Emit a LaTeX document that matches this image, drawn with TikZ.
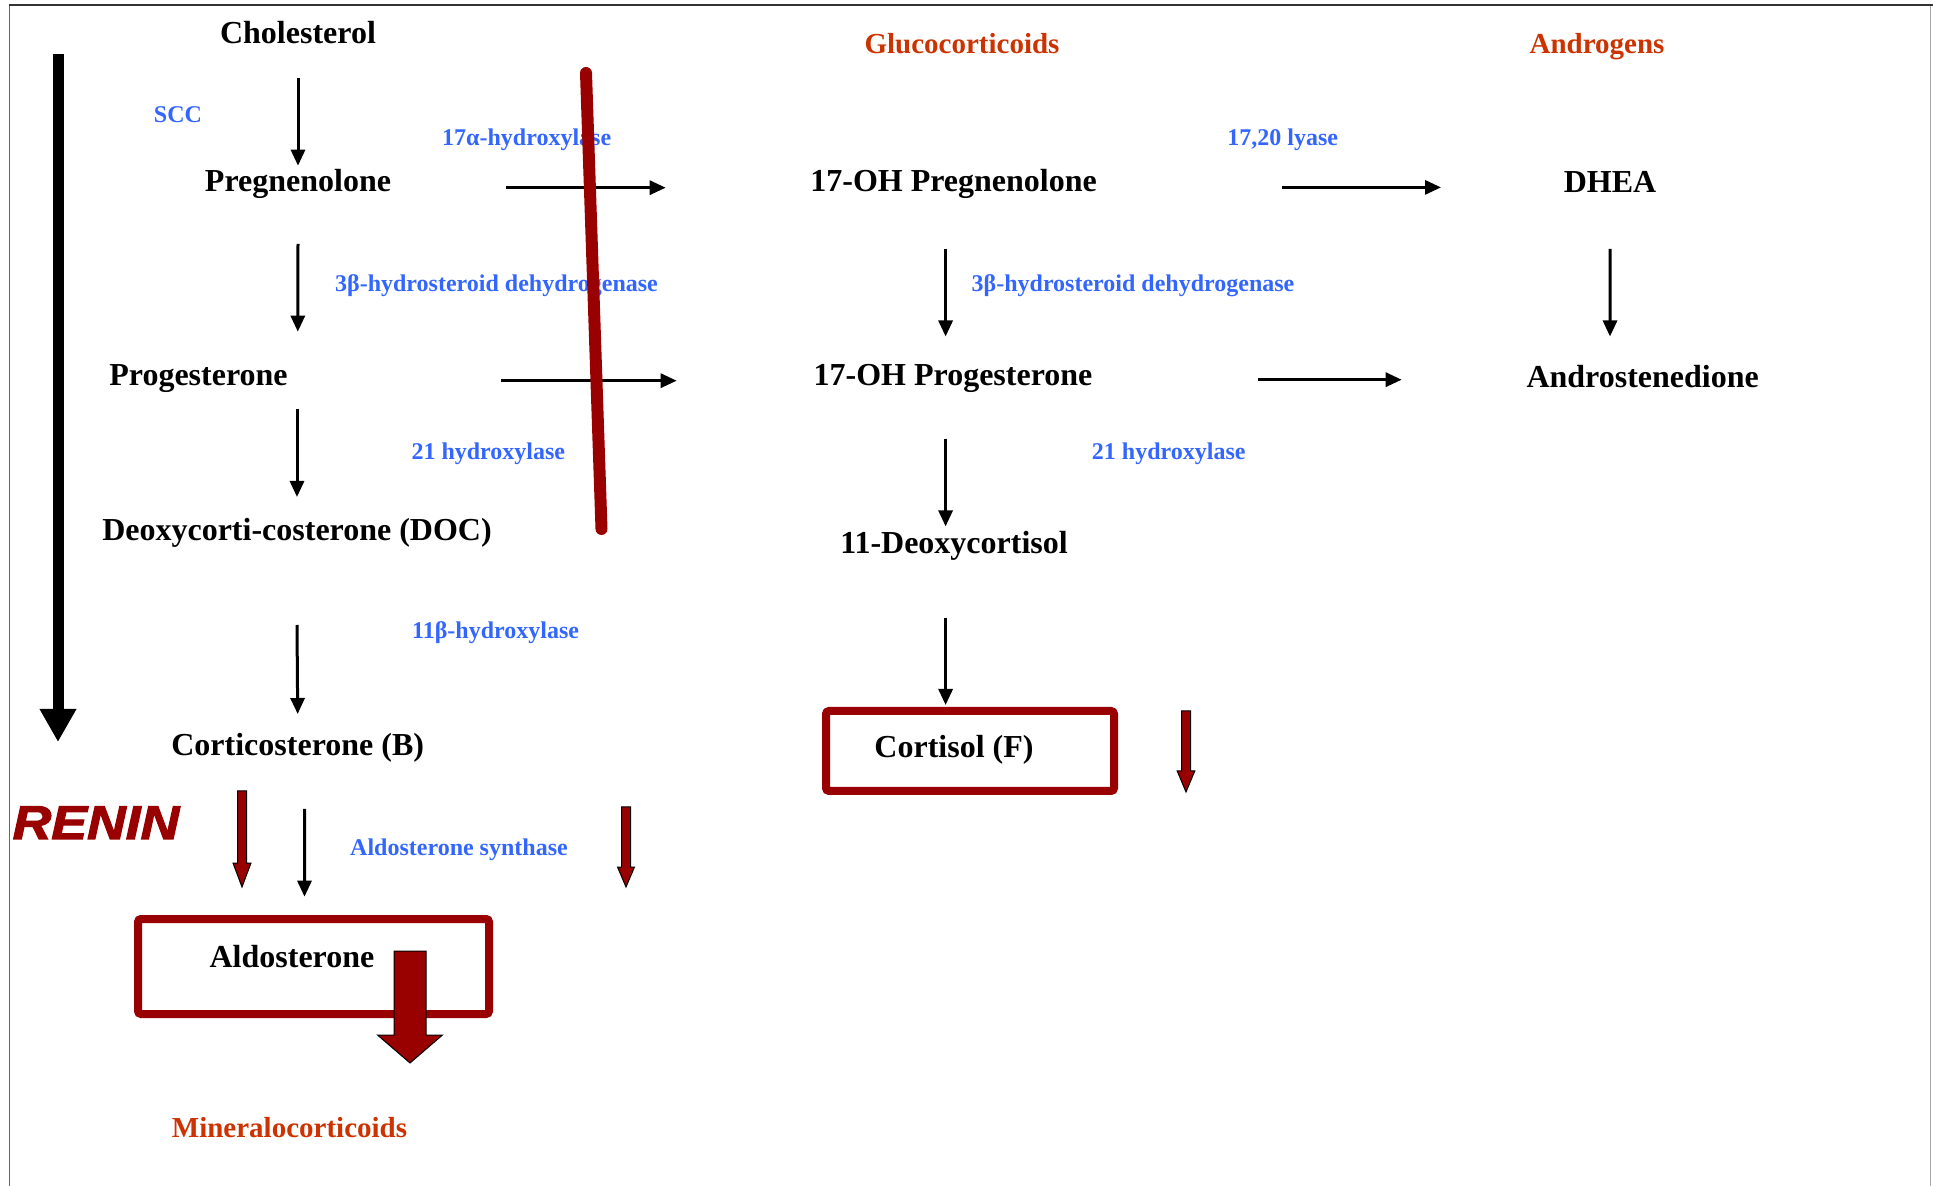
\documentclass[tikz,border=0pt]{standalone}
\usepackage{fontspec}
\setmainfont{Liberation Serif}
\newfontfamily\reninfont{Liberation Sans}[BoldItalicFeatures={FakeBold=2.5,FakeStretch=1.13}]
\usetikzlibrary{arrows.meta}
\definecolor{enzblue}{RGB}{51,102,255}
\definecolor{grporange}{RGB}{204,51,0}
\definecolor{darkred}{RGB}{153,0,0}

\begin{document}
\begin{tikzpicture}[x=0.5pt, y=-0.5pt,
    chem/.style={font=\fontsize{16}{19}\selectfont\bfseries, anchor=base, inner sep=0pt},
    enz/.style={font=\fontsize{12}{14}\selectfont\bfseries, text=enzblue, anchor=base, inner sep=0pt},
    grp/.style={font=\fontsize{14.5}{17}\selectfont\bfseries, text=grporange, anchor=base, inner sep=0pt},
    arr/.style={-{Triangle[length=8pt,width=7pt]}, line width=1.5pt},
    outbox/.style={draw=darkred, line width=4pt, rounded corners=1.5pt, inner sep=0pt, outer sep=0pt},
    blockarr/.style={fill=darkred, draw=black, line width=0.5pt}]

    \useasboundingbox (0,0) rectangle (1933,1186);

    % frame
    \draw[black!60, line width=0.5pt] (9.5,5) -- (9.5,1186);
    \draw[black!35, line width=0.5pt] (1930.5,5) -- (1930.5,1186);
    \draw[black!80, line width=1pt] (9,5) -- (1933,5);

    % group headings
    \node[grp] (gluco)  at (962,53.4)   {Glucocorticoids};
    \node[grp] (andgrp) at (1597,53.3)  {Androgens};
    \node[grp] (mineral) at (289.5,1137) {Mineralocorticoids};

    % steroids
    \node[chem] (chol)   at (298,44)     {Cholesterol};
    \node[chem] (preg)   at (298,192)    {Pregnenolone};
    \node[chem] (prog)   at (198.5,386)  {Progesterone};
    \node[chem] (doc)    at (297,541)    {Deoxycorti-costerone (DOC)};
    \node[chem] (cort)   at (297.7,756)  {Corticosterone (B)};
    \node[chem] (aldo)   at (292,967)    {Aldosterone};
    \node[chem] (ohpreg) at (953.6,192)  {17-OH Pregnenolone};
    \node[chem] (ohprog) at (953,386)    {17-OH Progesterone};
    \node[chem] (deoxy)  at (954,553.5)  {11-Deoxycortisol};
    \node[chem] (cortisol) at (954,757.7) {Cortisol (F)};
    \node[chem] (dhea)   at (1610,192.7) {DHEA};
    \node[chem] (andro)  at (1642.7,388) {Androstenedione};

    % enzymes
    \node[enz] (scc)    at (178,122.5)   {SCC};
    \node[enz] (hyd17)  at (526.7,145.7) {17α-hydroxylase};
    \node[enz] (lyase)  at (1282.7,145.7) {17,20 lyase};
    \node[enz] (hsdl)   at (496.5,292)   {3β-hydrosteroid dehydrogenase};
    \node[enz] (hsdr)   at (1133,292)    {3β-hydrosteroid dehydrogenase};
    \node[enz] (hyd21l) at (488.3,459.3) {21 hydroxylase};
    \node[enz] (hyd21r) at (1168.7,459.3) {21 hydroxylase};
    \node[enz] (hyd11)  at (495.6,639)   {11β-hydroxylase};
    \node[enz] (aldsyn) at (459,855.7)   {Aldosterone synthase};

    % renin
    \node[font=\fontsize{23.7}{28}\reninfont\bfseries\itshape, text=darkred,
          anchor=base, inner sep=0pt] (renin) at (96,839) {RENIN};

    % output boxes
    \node[outbox, minimum width=175.5pt, minimum height=47.5pt] (aldobox) at (313.5,966.5) {};
    \node[outbox, minimum width=144pt, minimum height=40pt] (cortbox) at (970,751) {};

    % mineralocorticoid pathway
    \draw[arr] ([yshift=-17pt]chol.base) -- ([yshift=13.15pt]preg.base);
    \draw[arr] ([yshift=-26pt]preg.base) -- ([xshift=49.65pt,yshift=27.15pt]prog.base);
    \draw[arr] ([xshift=49.25pt,yshift=-11.5pt]prog.base) -- ([yshift=22pt]doc.base);
    \draw[arr] ([yshift=-42pt]doc.base) -- ([yshift=21pt]cort.base);
    \draw[arr] ([xshift=3.4pt,yshift=-26.5pt]cort.base) -- ([xshift=-4.5pt,yshift=34.9pt]aldobox.center);

    % glucocorticoid pathway
    \draw[arr] ([xshift=-4pt,yshift=-28.5pt]ohpreg.base) -- ([xshift=-3.7pt,yshift=24.75pt]ohprog.base);
    \draw[arr] ([xshift=-3.7pt,yshift=-26.45pt]ohprog.base) -- ([xshift=-4.2pt,yshift=13.55pt]deoxy.base);
    \draw[arr] ([xshift=-4.2pt,yshift=-32.05pt]deoxy.base) -- ([xshift=-12.2pt,yshift=23pt]cortbox.center);

    % androgens
    \draw[arr] ([yshift=-28.15pt]dhea.base) -- ([xshift=-16.35pt,yshift=25.75pt]andro.base);

    % 17-hydroxylation and lyase
    \draw[arr] ([xshift=104pt,yshift=2.15pt]preg.base) -- ([xshift=-143.95pt,yshift=2.15pt]ohpreg.base);
    \draw[arr] ([xshift=151.25pt,yshift=2.65pt]prog.base) -- ([xshift=-138.15pt,yshift=2.65pt]ohprog.base);
    \draw[arr] ([xshift=164.2pt,yshift=2.3pt]ohpreg.base) -- ([xshift=-84.5pt,yshift=2.65pt]dhea.base);
    \draw[arr] ([xshift=152.25pt,yshift=3.15pt]ohprog.base) -- ([xshift=-120.5pt,yshift=4.15pt]andro.base);

    % zona glomerulosa arrow
    \coordinate (zgtop) at (58,54);
    \coordinate (zgbot) at (58,742);
    \draw[line width=5.5pt, -{Triangle[length=16.5pt,width=17.25pt]}] (zgtop) -- (zgbot);

    % block of 17-hydroxylase
    \coordinate (blktop) at (586,73);
    \coordinate (blkbot) at (601.5,529);
    \draw[darkred, line width=6pt, line cap=round] (blktop) -- (blkbot);

    % red block arrows
    \foreach \x/\yt/\yh/\yb/\s/\h in {242/791/863/887/4.5/9, 626/807/867/887/4.5/8.5,
                                      1186/711/771/792/4.5/8.8, 410/951/1035/1063/16/32.5}
      \draw[blockarr] (\x-\s,\yt) -- (\x+\s,\yt) -- (\x+\s,\yh) -- (\x+\h,\yh)
        -- (\x,\yb) -- (\x-\h,\yh) -- (\x-\s,\yh) -- cycle;
  \end{tikzpicture}
\end{document}
